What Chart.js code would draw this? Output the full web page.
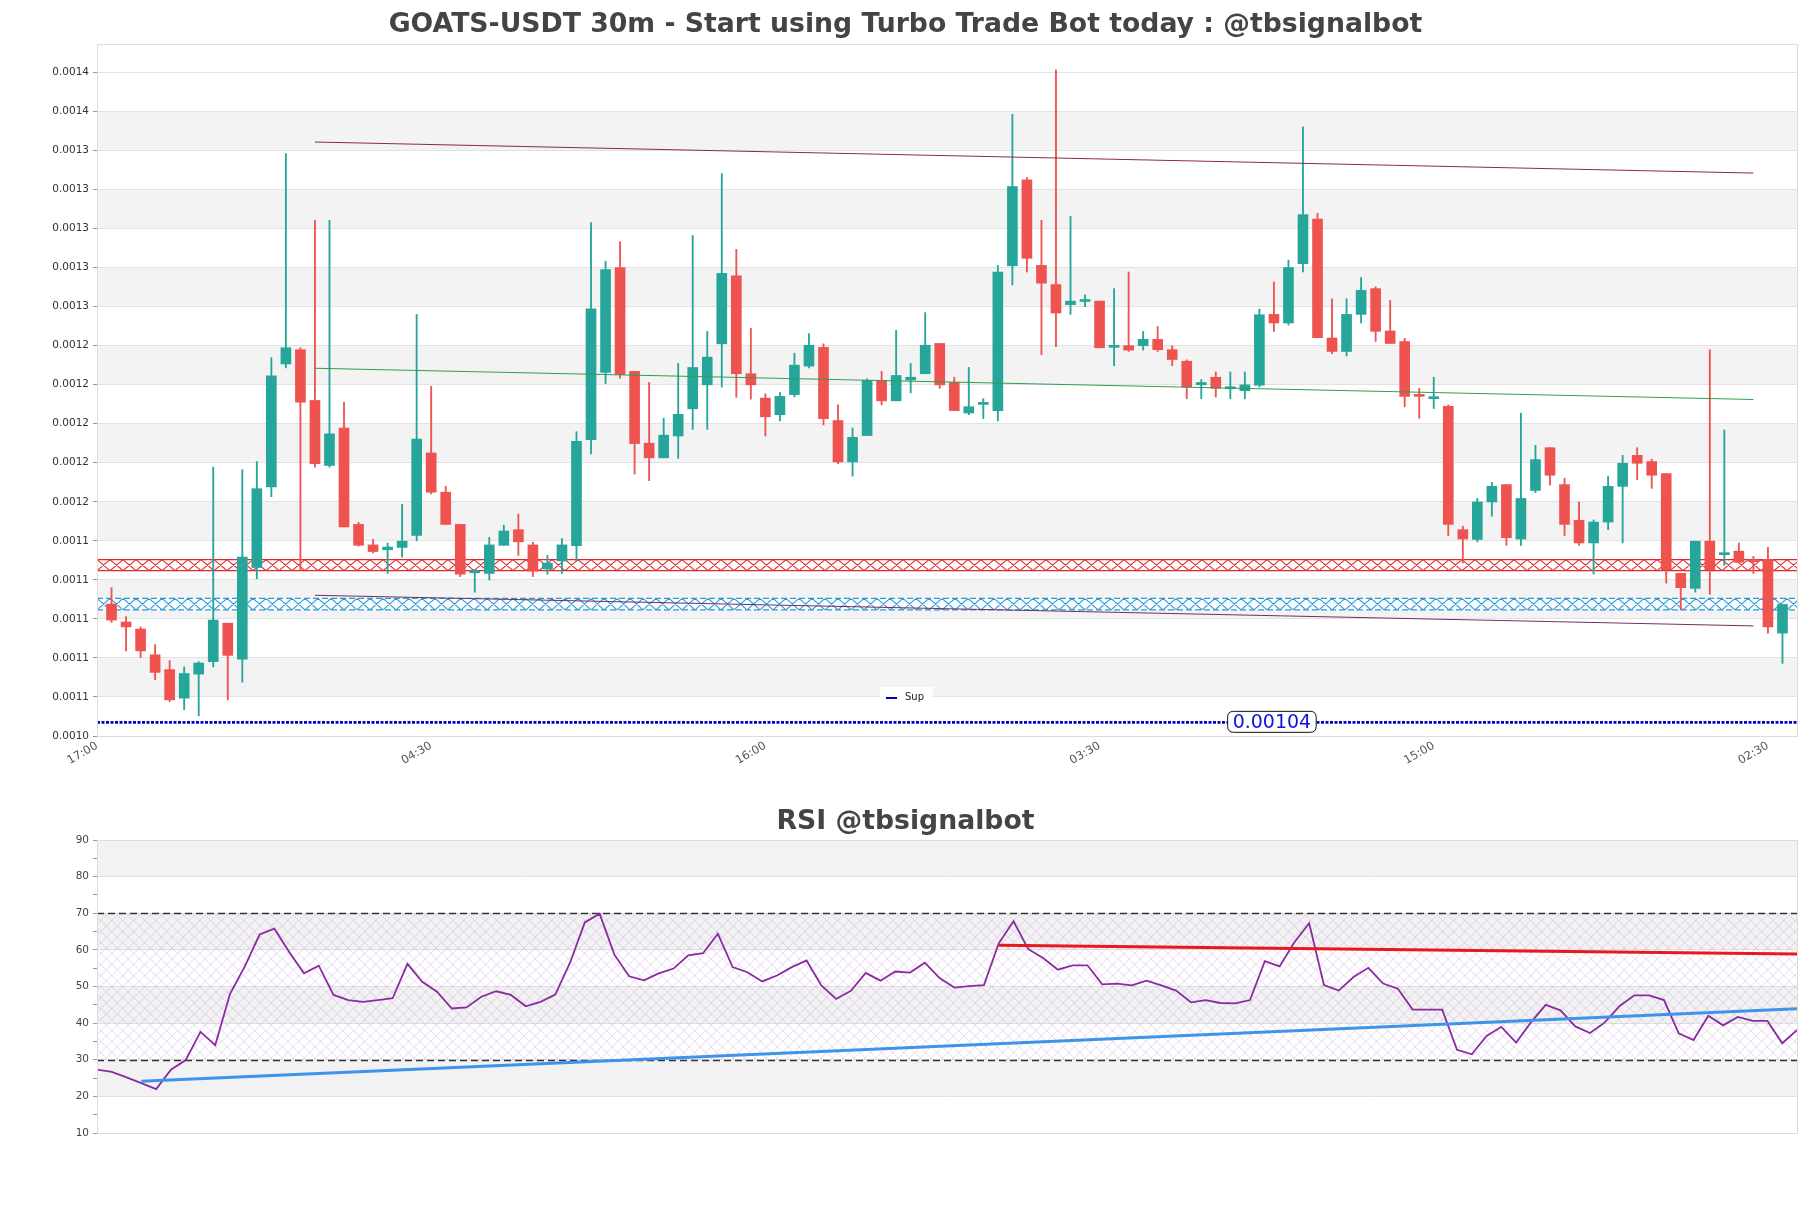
<!DOCTYPE html>
<html>
<head>
<meta charset="utf-8">
<script src="https://cdn.jsdelivr.net/npm/chart.js@4.4.1/dist/chart.umd.min.js"></script>
<style>
  html, body { margin: 0; padding: 0; background: #fff; }
  #wrap { position: relative; width: 1811px; height: 1208px; }
  canvas { position: absolute; left: 0; }
  #main { top: 0; }
  #rsi { top: 800px; }
</style>
</head>
<body>
<div id="wrap">
  <canvas id="main" width="1811" height="800"></canvas>
  <canvas id="rsi" width="1811" height="408"></canvas>
</div>
<script>
// ----------------- DATA -----------------
const xTickIdx = [-1, 22, 45, 68, 91, 114];
const xTickLabels = ["17:00", "04:30", "16:00", "03:30", "15:00", "02:30"];
const yTicks = [0.001033, 0.001053, 0.001073, 0.001093, 0.001113, 0.001133, 0.001153, 0.001173, 0.001193,
  0.001213, 0.001233, 0.001253, 0.001273, 0.001293, 0.001313, 0.001333, 0.001353, 0.001373];

const opens = [
  0.0011006, 0.0010914, 0.0010878, 0.0010746, 0.0010670, 0.0010524, 0.0010647, 0.0010711, 0.0010908, 0.0010723,
  0.0011193, 0.0011606, 0.0012236, 0.0012309, 0.0012049, 0.0011716, 0.0011908, 0.0011414, 0.0011309, 0.0011284,
  0.0011296, 0.0011357, 0.0011780, 0.0011579, 0.0011414, 0.0011166, 0.0011163, 0.0011307, 0.0011387, 0.0011309,
  0.0011186, 0.0011227, 0.0011305, 0.0011848, 0.0012193, 0.0012730, 0.0012198, 0.0011830, 0.0011755, 0.0011867,
  0.0012006, 0.0012129, 0.0012339, 0.0012688, 0.0012186, 0.0012061, 0.0011976, 0.0012079, 0.0012225, 0.0012321,
  0.0011946, 0.0011734, 0.0011869, 0.0012152, 0.0012047, 0.0012154, 0.0012186, 0.0012341, 0.0012141, 0.0011985,
  0.0012029, 0.0011997, 0.0012739, 0.0013179, 0.0012741, 0.0012643, 0.0012540, 0.0012556, 0.0012558, 0.0012321,
  0.0012330, 0.0012330, 0.0012362, 0.0012309, 0.0012250, 0.0012129, 0.0012168, 0.0012109, 0.0012099, 0.0012127,
  0.0012490, 0.0012446, 0.0012750, 0.0012978, 0.0012369, 0.0012300, 0.0012490, 0.0012622, 0.0012405, 0.0012351,
  0.0012079, 0.0012058, 0.0012019, 0.0011387, 0.0011337, 0.0011529, 0.0011618, 0.0011339, 0.0011588, 0.0011807,
  0.0011618, 0.0011435, 0.0011319, 0.0011426, 0.0011609, 0.0011768, 0.0011736, 0.0011675, 0.0011163, 0.0011086,
  0.0011328, 0.0011259, 0.0011277, 0.0011232, 0.0011234, 0.0010857
];
const highs = [
  0.0011090, 0.0010942, 0.0010889, 0.0010798, 0.0010716, 0.0010684, 0.0010711, 0.0011707, 0.0010908, 0.0011695,
  0.0011736, 0.0012268, 0.0013314, 0.0012319, 0.0012972, 0.0012972, 0.0012040, 0.0011424, 0.0011337, 0.0011319,
  0.0011517, 0.0012490, 0.0012122, 0.0011609, 0.0011414, 0.0011182, 0.0011348, 0.0011410, 0.0011467, 0.0011323,
  0.0011255, 0.0011341, 0.0011889, 0.0012960, 0.0012762, 0.0012862, 0.0012198, 0.0012141, 0.0011958, 0.0012239,
  0.0012894, 0.0012403, 0.0013211, 0.0012823, 0.0012419, 0.0012083, 0.0012090, 0.0012291, 0.0012392, 0.0012339,
  0.0012026, 0.0011908, 0.0012159, 0.0012198, 0.0012408, 0.0012239, 0.0012499, 0.0012341, 0.0012168, 0.0012218,
  0.0012058, 0.0012741, 0.0013515, 0.0013191, 0.0012972, 0.0013743, 0.0012992, 0.0012590, 0.0012558, 0.0012622,
  0.0012707, 0.0012403, 0.0012428, 0.0012330, 0.0012257, 0.0012156, 0.0012195, 0.0012195, 0.0012195, 0.0012517,
  0.0012656, 0.0012768, 0.0013451, 0.0013008, 0.0012570, 0.0012570, 0.0012679, 0.0012631, 0.0012561, 0.0012367,
  0.0012111, 0.0012168, 0.0012026, 0.0011405, 0.0011547, 0.0011629, 0.0011618, 0.0011985, 0.0011819, 0.0011807,
  0.0011650, 0.0011529, 0.0011437, 0.0011661, 0.0011768, 0.0011807, 0.0011748, 0.0011675, 0.0011163, 0.0011328,
  0.0012309, 0.0011898, 0.0011319, 0.0011250, 0.0011296, 0.0011004
];
const lows = [
  0.0010912, 0.0010766, 0.0010732, 0.0010618, 0.0010506, 0.0010465, 0.0010433, 0.0010684, 0.0010515, 0.0010606,
  0.0011136, 0.0011556, 0.0012216, 0.0011182, 0.0011707, 0.0011707, 0.0011401, 0.0011303, 0.0011268, 0.0011163,
  0.0011246, 0.0011330, 0.0011570, 0.0011414, 0.0011147, 0.0011067, 0.0011129, 0.0011307, 0.0011255, 0.0011147,
  0.0011159, 0.0011163, 0.0011227, 0.0011775, 0.0012136, 0.0012163, 0.0011672, 0.0011638, 0.0011755, 0.0011752,
  0.0011901, 0.0011901, 0.0012118, 0.0012065, 0.0012056, 0.0011867, 0.0011944, 0.0012067, 0.0012216, 0.0011924,
  0.0011725, 0.0011661, 0.0011869, 0.0012026, 0.0012047, 0.0012088, 0.0012186, 0.0012111, 0.0011997, 0.0011976,
  0.0011956, 0.0011944, 0.0012641, 0.0012707, 0.0012284, 0.0012325, 0.0012490, 0.0012529, 0.0012319, 0.0012227,
  0.0012300, 0.0012307, 0.0012300, 0.0012227, 0.0012058, 0.0012058, 0.0012067, 0.0012058, 0.0012058, 0.0012118,
  0.0012403, 0.0012435, 0.0012707, 0.0012371, 0.0012289, 0.0012277, 0.0012446, 0.0012351, 0.0012341, 0.0012017,
  0.0011958, 0.0012008, 0.0011357, 0.0011216, 0.0011325, 0.0011456, 0.0011307, 0.0011307, 0.0011577, 0.0011615,
  0.0011357, 0.0011307, 0.0011159, 0.0011387, 0.0011319, 0.0011643, 0.0011599, 0.0011113, 0.0010976, 0.0011067,
  0.0011056, 0.0011204, 0.0011216, 0.0011163, 0.0010857, 0.0010702
];
const closes = [
  0.0010924, 0.0010889, 0.0010766, 0.0010656, 0.0010515, 0.0010650, 0.0010704, 0.0010924, 0.0010743, 0.0011246,
  0.0011597, 0.0012175, 0.0012319, 0.0012040, 0.0011725, 0.0011878, 0.0011401, 0.0011307, 0.0011275, 0.0011298,
  0.0011328, 0.0011851, 0.0011579, 0.0011414, 0.0011159, 0.0011175, 0.0011309, 0.0011380, 0.0011325, 0.0011175,
  0.0011216, 0.0011309, 0.0011839, 0.0012519, 0.0012720, 0.0012182, 0.0011828, 0.0011755, 0.0011871, 0.0011978,
  0.0012218, 0.0012271, 0.0012700, 0.0012186, 0.0012129, 0.0011965, 0.0012070, 0.0012230, 0.0012332, 0.0011956,
  0.0011734, 0.0011860, 0.0012152, 0.0012047, 0.0012177, 0.0012168, 0.0012332, 0.0012129, 0.0011997, 0.0012017,
  0.0012038, 0.0012707, 0.0013145, 0.0012777, 0.0012650, 0.0012497, 0.0012558, 0.0012561, 0.0012319, 0.0012330,
  0.0012307, 0.0012362, 0.0012309, 0.0012259, 0.0012118, 0.0012141, 0.0012111, 0.0012113, 0.0012129, 0.0012488,
  0.0012446, 0.0012730, 0.0013001, 0.0012371, 0.0012300, 0.0012490, 0.0012613, 0.0012403, 0.0012341, 0.0012070,
  0.0012070, 0.0012063, 0.0011414, 0.0011339, 0.0011529, 0.0011609, 0.0011346, 0.0011547, 0.0011746, 0.0011666,
  0.0011414, 0.0011319, 0.0011426, 0.0011609, 0.0011727, 0.0011727, 0.0011666, 0.0011182, 0.0011090, 0.0011328,
  0.0011182, 0.0011268, 0.0011220, 0.0011223, 0.0010889, 0.0011004
];

const supLevel = 0.00104;
const supLabelAt = 80;
const resistBand = [0.0011177, 0.0011234];
const supportBand = [0.0010976, 0.0011035];
const upperTrend = [[14, 0.0013373], [113, 0.0013214]];
const midTrend = [[14, 0.0012214], [113, 0.0012054]];
const lowerTrend = [[14, 0.0011051], [113, 0.0010894]];

const rsiValues = [
  27.3, 26.7, 25.2, 23.6, 22.0, 27.3, 29.9, 37.6, 34.0, 48.0,
  55.5, 64.2, 65.8, 59.4, 53.6, 55.7, 47.7, 46.3, 45.8, 46.3,
  46.8, 56.2, 51.3, 48.6, 44.0, 44.3, 47.2, 48.7, 47.7, 44.6,
  45.8, 47.8, 56.5, 67.5, 69.9, 58.7, 52.8, 51.7, 53.6, 54.9,
  58.5, 59.1, 64.4, 55.3, 53.9, 51.4, 53.0, 55.3, 57.1, 50.3,
  46.6, 48.8, 53.7, 51.6, 54.1, 53.8, 56.5, 52.3, 49.7, 50.1,
  50.4, 61.8, 67.8, 60.2, 57.8, 54.6, 55.8, 55.8, 50.6, 50.8,
  50.3, 51.6, 50.3, 48.9, 45.7, 46.3, 45.5, 45.4, 46.3, 56.9,
  55.5, 62.1, 67.3, 50.4, 48.9, 52.6, 55.1, 50.8, 49.4, 43.7,
  43.7, 43.7, 32.7, 31.5, 36.5, 39.0, 34.7, 40.2, 45.0, 43.5,
  39.1, 37.3, 40.2, 44.7, 47.6, 47.6, 46.3, 37.2, 35.4, 42.0,
  39.4, 41.7, 40.6, 40.6, 34.5, 38.1
];
const rsiTicks = [10, 15, 20, 25, 30, 35, 40, 45, 50, 55, 60, 65, 70, 75, 80, 85, 90];
const rsiLevels = [30, 70];
const rsiShaded = [[20, 30], [40, 50], [60, 70], [80, 90]];
const rsiRedTrend = [[61, 61.3], [115, 58.9]];
const rsiBlueTrend = [[3, 24.1], [115, 43.9]];

// ----------------- STYLE -----------------
const FONT = "'DejaVu Sans', sans-serif";
const UP = "#26a69a";
const DOWN = "#ef5350";
Chart.defaults.font.family = FONT;
Chart.defaults.animation = false;

const idx = opens.map((_, i) => i);
const candleColors = idx.map(i => (closes[i] >= opens[i] ? UP : DOWN));
const toPoints = pairs => pairs.map(p => ({ x: p[0], y: p[1] }));

// empty right-hand axis, only there to keep a 14px margin while the title stays centred on the canvas
const rightGap = {
  position: "right",
  grid: { display: false, drawTicks: false },
  border: { display: false },
  ticks: { display: false },
  afterFit: s => { s.width = 14; },
};

// ----------------- HELPERS -----------------
function drawHatchBand(chart, band, color, dashedEdge) {
  const { ctx, chartArea: a, scales: { y } } = chart;
  const top = y.getPixelForValue(band[1]);
  const bot = y.getPixelForValue(band[0]);
  const w = 13;
  ctx.save();
  ctx.beginPath();
  ctx.rect(a.left, top, a.right - a.left, bot - top);
  ctx.clip();
  ctx.fillStyle = "rgba(255,255,255,0.7)";
  ctx.fillRect(a.left, top, a.right - a.left, bot - top);
  ctx.strokeStyle = color;
  ctx.lineWidth = 1.1;
  ctx.beginPath();
  for (let x = a.left; x < a.right; x += w) {
    ctx.moveTo(x, top); ctx.lineTo(x + w, bot);
    ctx.moveTo(x + w, top); ctx.lineTo(x, bot);
  }
  ctx.stroke();
  ctx.restore();

  ctx.save();
  ctx.strokeStyle = color;
  ctx.lineWidth = 1.3;
  if (dashedEdge) ctx.setLineDash([6, 3]);
  ctx.beginPath();
  ctx.moveTo(a.left, top); ctx.lineTo(a.right, top);
  ctx.moveTo(a.left, bot); ctx.lineTo(a.right, bot);
  ctx.stroke();
  ctx.restore();
}

function drawBox(chart) {
  const { ctx, chartArea: a } = chart;
  ctx.save();
  ctx.strokeStyle = "#dcdcdc";
  ctx.lineWidth = 1;
  ctx.strokeRect(a.left + 0.5, a.top + 0.5, a.right - a.left, a.bottom - a.top);
  ctx.restore();
}

function roundRect(ctx, x, y, w, h, r) {
  ctx.beginPath();
  ctx.moveTo(x + r, y);
  ctx.lineTo(x + w - r, y);
  ctx.quadraticCurveTo(x + w, y, x + w, y + r);
  ctx.lineTo(x + w, y + h - r);
  ctx.quadraticCurveTo(x + w, y + h, x + w - r, y + h);
  ctx.lineTo(x + r, y + h);
  ctx.quadraticCurveTo(x, y + h, x, y + h - r);
  ctx.lineTo(x, y + r);
  ctx.quadraticCurveTo(x, y, x + r, y);
  ctx.closePath();
}

// ----------------- MAIN PLUGIN -----------------
const mainDecor = {
  id: "mainDecor",
  beforeDraw(chart) {
    const { ctx, chartArea: a, scales: { y } } = chart;
    ctx.save();
    ctx.fillStyle = "#f3f3f3";
    for (let k = 1; k < yTicks.length - 1; k += 2) {
      const top = y.getPixelForValue(yTicks[k + 1]);
      const bot = y.getPixelForValue(yTicks[k]);
      ctx.fillRect(a.left, top, a.right - a.left, bot - top);
    }
    ctx.restore();
  },
  beforeDatasetsDraw(chart) {
    drawHatchBand(chart, resistBand, "#e3262b", false);
    drawHatchBand(chart, supportBand, "#2c9ad8", true);
  },
  afterDatasetsDraw(chart) {
    const { ctx, scales: { x, y } } = chart;
    const text = supLevel.toFixed(5);
    const cx = x.getPixelForValue(supLabelAt) - 2;
    const cy = y.getPixelForValue(supLevel);
    ctx.save();
    ctx.font = "19px " + FONT;
    const tw = ctx.measureText(text).width;
    roundRect(ctx, cx - tw / 2 - 5, cy - 11, tw + 10, 21, 6);
    ctx.fillStyle = "#ffffff";
    ctx.fill();
    ctx.strokeStyle = "#111";
    ctx.lineWidth = 1;
    ctx.stroke();
    ctx.fillStyle = "#1010e0";
    ctx.textAlign = "center";
    ctx.textBaseline = "middle";
    ctx.fillText(text, cx, cy + 0.5);
    ctx.restore();
  },
  afterDraw(chart) {
    drawBox(chart);
    // legend box (Sup)
    const ds = chart.data.datasets.find(d => d.label === "Sup");
    const { ctx } = chart;
    ctx.save();
    ctx.fillStyle = "rgba(255,255,255,0.9)";
    ctx.fillRect(880, 687, 53, 20);
    ctx.strokeStyle = ds.borderColor;
    ctx.lineWidth = 2;
    ctx.beginPath();
    ctx.moveTo(886, 698); ctx.lineTo(897, 698);
    ctx.stroke();
    ctx.fillStyle = "#222";
    ctx.font = "10px " + FONT;
    ctx.textBaseline = "middle";
    ctx.fillText(ds.label, 905, 697);
    ctx.restore();
  }
};

// ----------------- MAIN CHART -----------------
new Chart(document.getElementById("main"), {
  type: "bar",
  data: {
    datasets: [
      {
        label: "wick",
        data: idx.map(i => ({ x: i, y: [lows[i], highs[i]] })),
        backgroundColor: candleColors,
        barThickness: 1.2,
        grouped: false,
        order: 3,
      },
      {
        label: "body",
        data: idx.map(i => ({ x: i, y: [opens[i], closes[i]] })),
        backgroundColor: candleColors,
        barThickness: 10,
        minBarLength: 2,
        grouped: false,
        order: 2,
      },
      {
        type: "line", label: "upper", data: toPoints(upperTrend),
        borderColor: "#8a2a4a", borderWidth: 1, pointRadius: 0, order: 1,
      },
      {
        type: "line", label: "mid", data: toPoints(midTrend),
        borderColor: "#2f9e4f", borderWidth: 1, pointRadius: 0, order: 1,
      },
      {
        type: "line", label: "lower", data: toPoints(lowerTrend),
        borderColor: "#74305e", borderWidth: 1, pointRadius: 0, order: 1,
      },
      {
        type: "line", label: "Sup",
        data: [{ x: -1, y: supLevel }, { x: 116, y: supLevel }],
        borderColor: "#0000c0", borderWidth: 2.8, borderDash: [3, 1.5], pointRadius: 0, order: 0,
      },
    ],
  },
  options: {
    responsive: false,
    layout: { padding: 0 },
    plugins: {
      legend: { display: false },
      tooltip: { enabled: false },
      title: {
        display: true,
        text: "GOATS-USDT 30m - Start using Turbo Trade Bot today : @tbsignalbot",
        font: { size: 26.7, weight: "bold", family: FONT },
        color: "#444",
        padding: { top: 9.5, bottom: 2.5 },
      },
    },
    scales: {
      x: {
        type: "linear",
        min: -1,
        max: 116,
        offset: false,
        grid: { display: false, drawTicks: false },
        border: { display: false },
        afterBuildTicks: s => { s.ticks = xTickIdx.map(v => ({ value: v })); },
        afterFit: s => { s.height = 64; },
        ticks: {
          autoSkip: false,
          minRotation: 30,
          maxRotation: 30,
          padding: 3,
          color: "#555",
          font: { size: 11.5, family: FONT },
          callback: (v, i) => xTickLabels[i],
        },
      },
      y: {
        min: yTicks[0],
        max: 0.0013875,
        afterBuildTicks: s => { s.ticks = yTicks.map(v => ({ value: v })); },
        afterFit: s => { s.width = 97; },
        grid: { color: "#e2e2e2", tickLength: 4, tickColor: "#999" },
        border: { color: "#dcdcdc" },
        ticks: {
          padding: 4,
          color: "#333",
          font: { size: 10.5, family: FONT },
          callback: v => v.toFixed(4),
        },
      },
      gap: rightGap,
    },
  },
  plugins: [mainDecor],
});

// ----------------- RSI PLUGIN -----------------
const rsiDecor = {
  id: "rsiDecor",
  beforeDraw(chart) {
    const { ctx, chartArea: a, scales: { y } } = chart;
    ctx.save();
    ctx.fillStyle = "#f2f2f2";
    rsiShaded.forEach(r => {
      const top = y.getPixelForValue(r[1]);
      const bot = y.getPixelForValue(r[0]);
      ctx.fillRect(a.left, top, a.right - a.left, bot - top);
    });
    ctx.restore();
  },
  beforeDatasetsDraw(chart) {
    const { ctx, chartArea: a, scales: { y } } = chart;
    const top = y.getPixelForValue(rsiLevels[1]);
    const bot = y.getPixelForValue(rsiLevels[0]);
    const h = bot - top;
    ctx.save();
    ctx.beginPath();
    ctx.rect(a.left, top, a.right - a.left, h);
    ctx.clip();
    ctx.strokeStyle = "rgba(185,140,205,0.42)";
    ctx.lineWidth = 0.8;
    ctx.beginPath();
    for (let x = a.left - h; x < a.right + h; x += 11) {
      ctx.moveTo(x, top); ctx.lineTo(x + h, bot);
      ctx.moveTo(x, bot); ctx.lineTo(x + h, top);
    }
    ctx.stroke();
    ctx.restore();

    ctx.save();
    ctx.strokeStyle = "#333";
    ctx.lineWidth = 1.3;
    ctx.setLineDash([7, 4]);
    rsiLevels.forEach(l => {
      const py = Math.round(y.getPixelForValue(l)) + 0.5;
      ctx.beginPath();
      ctx.moveTo(a.left, py); ctx.lineTo(a.right, py);
      ctx.stroke();
    });
    ctx.restore();
  },
  afterDraw(chart) {
    drawBox(chart);
  }
};

// ----------------- RSI CHART -----------------
new Chart(document.getElementById("rsi"), {
  type: "line",
  data: {
    datasets: [
      {
        label: "RSI",
        data: rsiValues.map((v, i) => ({ x: i, y: v })),
        borderColor: "#8a2ba0", borderWidth: 1.8, pointRadius: 0, tension: 0, order: 2,
      },
      {
        label: "RSI high trend",
        data: toPoints(rsiRedTrend),
        borderColor: "#e8191c", borderWidth: 3, pointRadius: 0, order: 1,
      },
      {
        label: "RSI low trend",
        data: toPoints(rsiBlueTrend),
        borderColor: "#3f93ea", borderWidth: 3, pointRadius: 0, order: 1,
      },
    ],
  },
  options: {
    responsive: false,
    layout: { padding: { left: 0, right: 0, top: 0, bottom: 75 } },
    plugins: {
      legend: { display: false },
      tooltip: { enabled: false },
      title: {
        display: true,
        text: "RSI @tbsignalbot",
        font: { size: 26.7, weight: "bold", family: FONT },
        color: "#444",
        padding: { top: 6.5, bottom: 1.5 },
      },
    },
    scales: {
      x: { type: "linear", min: 0, max: 115, display: false },
      y: {
        min: 10,
        max: 90,
        afterBuildTicks: s => { s.ticks = rsiTicks.map(v => ({ value: v })); },
        afterFit: s => { s.width = 97; },
        grid: {
          color: c => (c.tick && c.tick.value % 10 === 0 ? "#e0e0e0" : "rgba(0,0,0,0)"),
          tickColor: "#999",
          tickLength: 4,
        },
        border: { color: "#dcdcdc" },
        ticks: {
          padding: 4,
          color: "#444",
          font: { size: 10.5, family: FONT },
          callback: v => (v % 10 === 0 ? String(v) : ""),
        },
      },
      gap: rightGap,
    },
  },
  plugins: [rsiDecor],
});
</script>
</body>
</html>
